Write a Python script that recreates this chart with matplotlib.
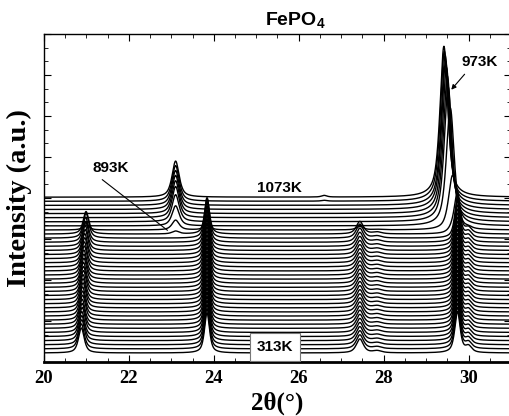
import numpy as np
import matplotlib
matplotlib.use("Agg")
import matplotlib.pyplot as plt
from matplotlib.ticker import MultipleLocator

plt.rcParams["mathtext.fontset"] = "custom"
plt.rcParams["mathtext.rm"] = "Liberation Sans:bold"
plt.rcParams["mathtext.default"] = "rm"

# ---------------- data ----------------
temps_K = [313, 333, 353, 373, 393, 413, 433, 453, 473, 493, 513, 533, 553,
           573, 593, 613, 633, 653, 673, 693, 713, 733, 753, 773, 793, 813,
           833, 853, 873, 893, 913, 933, 953, 973, 993, 1013, 1033, 1053, 1073]

# low-temperature phase reflections (2theta, intensity a.u., FWHM)
low_pos = [20.88, 23.84, 27.44, 27.85, 29.74, 30.00]
low_int = [0.61, 0.98, 0.34, 0.05, 1.00, 0.15]
low_fwhm = [0.16, 0.14, 0.20, 0.25, 0.15, 0.18]
# fraction of low phase for every scan
low_frac = [1.0] * 29 + [0.9, 0.25, 0, 0, 0, 0, 0, 0, 0, 0]
# thermal shift of the ~20.9 reflection
low_shift = [0.00, 0.00, 0.01, 0.01, 0.01, 0.02, 0.02, 0.02, 0.03, 0.03,
             0.03, 0.04, 0.04, 0.04, 0.05, 0.05, 0.05, 0.06, 0.06, 0.06,
             0.07, 0.07, 0.08, 0.08, 0.09, 0.09, 0.10, 0.10, 0.11, 0.11,
             0.11, 0.11, 0.11, 0.11, 0.11, 0.11, 0.11, 0.11, 0.11]

# high-temperature phase reflections
high_a_pos = 23.10
high_a_fwhm = 0.20
high_a_int = [0] * 29 + [0.07, 0.24, 0.49, 0.66, 0.76, 0.80, 0.83, 0.85, 0.87, 0.88]
high_b_fwhm = 0.22
high_b_pos = [29.66] * 29 + [29.66, 29.62, 29.57, 29.52, 29.50, 29.48, 29.46, 29.45, 29.43, 29.42]
high_b_int = [0] * 29 + [0.20, 1.27, 2.88, 3.29, 3.46, 3.56, 3.61, 3.66, 3.66, 3.68]
high_c_pos = 26.60
high_c_int = [0] * 37 + [0.02, 0.04]

base_offset = 0.22
step_offset = 0.10

x_ticks = [20, 22, 24, 26, 28, 30]


def pv(x, x0, h, w, eta=0.7):
    d = (x - x0) / (w / 2.0)
    return h * (eta / (1 + d ** 2) + (1 - eta) * np.exp(-np.log(2) * d ** 2))


# ---------------- figure ----------------
fig = plt.figure(figsize=(5.09, 4.16), dpi=100)
ax = fig.add_axes([44 / 509, 54 / 416, 467 / 509, 328 / 416])

x = np.linspace(20, 31, 3000)
for i, T in enumerate(temps_K):
    y = np.full_like(x, base_offset + step_offset * i)
    for k in range(len(low_pos)):
        p = low_pos[k] + (low_shift[i] if k == 0 else 0.0)
        y += pv(x, p, low_int[k] * low_frac[i], low_fwhm[k])
    y += pv(x, high_a_pos, high_a_int[i], high_a_fwhm)
    y += pv(x, high_b_pos[i], high_b_int[i], high_b_fwhm)
    y += pv(x, high_c_pos, high_c_int[i], 0.15)
    ax.plot(x, y, color="black", lw=1.0, solid_joinstyle="round")

ax.set_xlim(20, 31)
ax.set_ylim(0, 8)
ax.set_xticks(x_ticks)
ax.xaxis.set_minor_locator(MultipleLocator(0.5))
ax.yaxis.set_major_locator(MultipleLocator(1))
ax.yaxis.set_minor_locator(MultipleLocator(1 / 3))
ax.set_yticklabels([])
ax.tick_params(which="both", direction="in", top=True, right=True)
ax.tick_params(which="major", length=5, width=0.8)
ax.tick_params(which="minor", length=3, width=0.6)
ax.tick_params(axis="x", labelsize=13.5, pad=6)
for lab in ax.get_xticklabels():
    lab.set_fontfamily("Liberation Serif")
    lab.set_fontweight("bold")

for s in ["top", "left", "right"]:
    ax.spines[s].set_linewidth(1.0)
ax.spines["bottom"].set_linewidth(2.0)

ax.set_xlabel("2θ(°)", fontsize=18, fontweight="bold",
              fontfamily="Liberation Serif", labelpad=3)
ax.set_ylabel("Intensity (a.u.)", fontsize=20.5, fontweight="bold",
              fontfamily="Liberation Serif", labelpad=5)

fig.text(295 / 509, 1 - 20 / 416, "FePO$_4$", ha="center", va="center",
         fontsize=14, fontweight="bold", fontfamily="Liberation Sans")

sans = dict(fontsize=11, fontweight="bold", fontfamily="Liberation Sans")
ax.text(25.55, 4.24, "1073K", ha="center", va="center", **sans)
ax.text(21.58, 4.73, "893K", ha="center", va="center", **sans)
ax.annotate("", xy=(22.96, 3.17), xytext=(21.32, 4.49),
            arrowprops=dict(arrowstyle="-", color="black", lw=0.8))
ax.text(30.26, 7.32, "973K", ha="center", va="center", **sans)
ax.annotate("", xy=(29.55, 6.59), xytext=(29.95, 7.07),
            arrowprops=dict(arrowstyle="-|>", color="black", lw=0.8,
                            mutation_scale=7))
ax.text(25.44, 0.37, "313K", ha="center", va="center", zorder=10,
        bbox=dict(boxstyle="square,pad=0.45", fc="white", ec="#777777", lw=0.8),
        **sans)

fig.savefig("out.png", dpi=100)
